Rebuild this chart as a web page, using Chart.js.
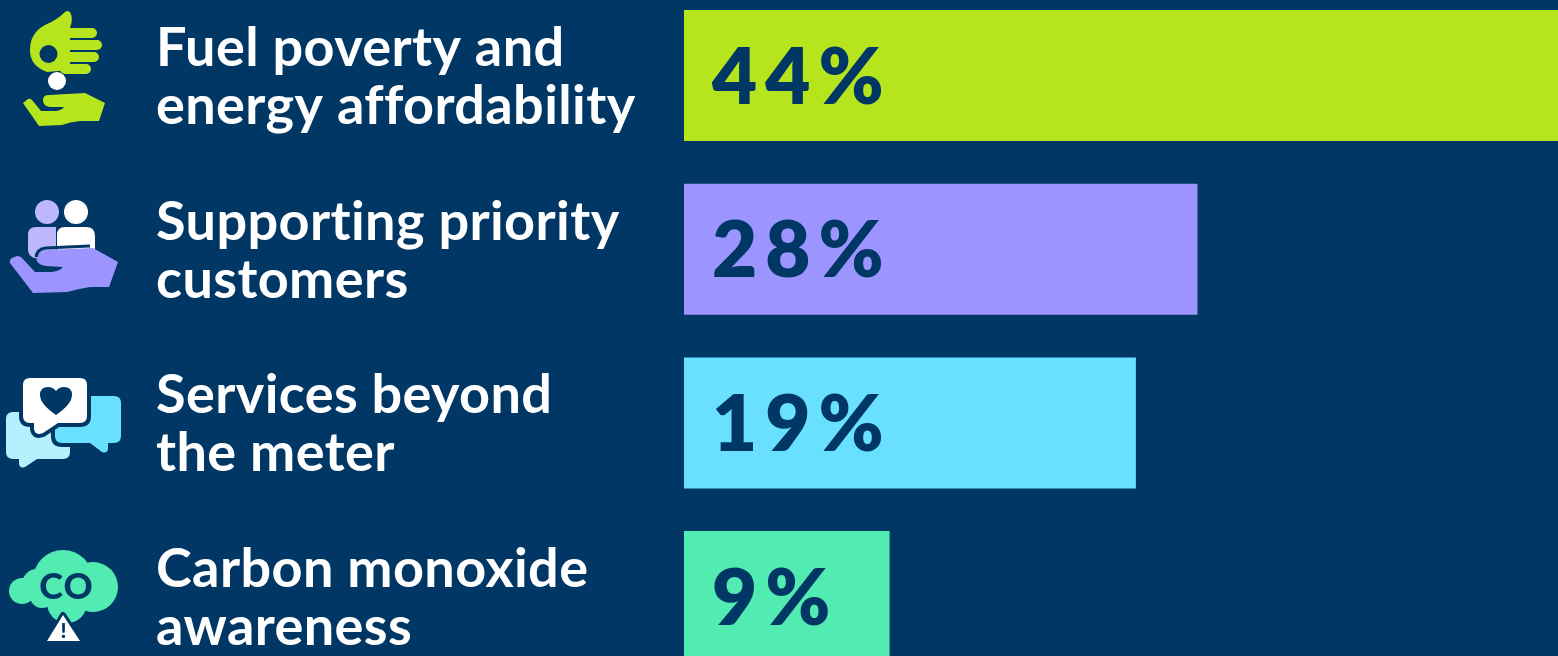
<!DOCTYPE html>
<html lang="en">
<head>
<meta charset="UTF-8">
<title>Priority areas</title>
<script src="https://cdn.jsdelivr.net/npm/chart.js"></script>
<style>
  html, body { margin: 0; width: 1558px; height: 656px; overflow: hidden; background: #003764; }
  #chart { position: absolute; left: 0; top: -12px; }
  #icons { position: absolute; left: 0; top: 0; }
  #icons text { font-family: Lato; font-weight: 900; fill: #003764; }
</style>
</head>
<body>
<canvas id="chart" width="1558" height="696"></canvas>
<svg id="icons" width="156" height="656" viewBox="0 0 156 656">
  <!-- fuel poverty -->
  <g fill="#b6e51d">
    <path d="M71 14 Q69 9 65 12 Q57 20 45 25 Q30 33 30 50 Q30 66 47 72 L70 70 L70 28 Q73 20 71 14Z"/>
    <path d="M65 33H92M68 45H97M70 57H94M65 69H86" stroke="#b6e51d" stroke-width="10" stroke-linecap="round"/>
    <path d="M23 103 L28 99 Q30 98 32 100 L41 111 L56 111 Q62 110 64 107 L50 107 Q43 106 43 100 Q43 95 49 95 L85 93 L105 103 L99 121 L80 121 Q70 122 62 125 L39 126Z"/>
  </g>
  <circle cx="48.5" cy="54" r="9" fill="#003764"/>
  <circle cx="57" cy="81" r="9" fill="#fff"/>
  <!-- priority customers -->
  <circle cx="47" cy="212" r="12" fill="#bdb7ff"/>
  <path d="M28 235 Q28 227 36 227 H56 V258 L34 258 Q28 255 28 250Z" fill="#bdb7ff"/>
  <circle cx="76" cy="212" r="12" fill="#fff"/>
  <path d="M57 235 Q57 227 65 227 H86 Q95 227 95 236 V250 H57Z" fill="#fff"/>
  <path d="M10 263 Q9 260 12 258 L17 256 Q20 256 22 258 L35 272 L52 272 Q60 271 63 267 L46 266 Q36 265 36 257 Q37 250 46 250 L93 248 L118 262 L109 287 L90 287 Q78 289 67 292 L33 293Z" fill="#9c95ff"/>
  <path d="M36 257 Q37 249 46 248 L90 246" fill="none" stroke="#003764" stroke-width="3"/>
  <!-- beyond the meter -->
  <path d="M13 412 H63 Q70 412 70 419 V452 Q70 459 63 459 H37 L25 467 Q20 469 19 464 V459 H13 Q6 459 6 452 V419 Q6 412 13 412Z" fill="#b5f0ff"/>
  <path d="M62 396 H114 Q121 396 121 403 V436 Q121 443 114 443 H108 V449 Q107 454 102 452 L90 443 H62 Q55 443 55 436 V403 Q55 396 62 396Z" fill="#69e0ff" stroke="#003764" stroke-width="8" paint-order="stroke"/>
  <path d="M30 378 H80 Q87 378 87 385 V416 Q87 423 80 423 H58 L43 433 Q35 436 34 429 V423 H30 Q23 423 23 416 V385 Q23 378 30 378Z" fill="#fff" stroke="#003764" stroke-width="8" paint-order="stroke"/>
  <path d="M56 415 Q40 404 40 395 Q40 387 48 387 Q53 387 56 391 Q59 387 64 387 Q72 387 72 395 Q72 404 56 415Z" fill="#003764"/>
  <!-- carbon monoxide -->
  <g fill="#52ebb2">
    <circle cx="63" cy="580" r="30"/><circle cx="93" cy="587" r="25"/>
    <circle cx="22" cy="591" r="13"/><circle cx="37" cy="584" r="15"/>
    <circle cx="67" cy="603" r="20"/><circle cx="42" cy="596" r="12"/>
  </g>
  <text x="66.5" y="599" font-size="36" letter-spacing="1" text-anchor="middle">CO</text>
  <path d="M63 615 L80 641 H47Z" fill="#fff" stroke="#003764" stroke-width="6" stroke-linejoin="round" paint-order="stroke"/>
  <text x="63.5" y="638" font-size="21" text-anchor="middle">!</text>
</svg>
<script>
const categories = [
  ['Fuel poverty and', 'energy affordability'],
  ['Supporting priority', 'customers'],
  ['Services beyond', 'the meter'],
  ['Carbon monoxide', 'awareness']
];
const shareLabels = ['44%', '28%', '19%', '9%'];
// drawn bar lengths, the picture's bars are not in proportion to their labels
const barLengths = [44, 25.85, 22.75, 10.35];
const barColors = ['#b6e51d', '#9c95ff', '#69e0ff', '#52ebb2'];

const shareLabelPlugin = {
  id: 'shareLabels',
  beforeDraw(chart) {
    // also switches off Lato's "ti" ligature in the axis labels
    chart.ctx.letterSpacing = '0.4px';
  },
  afterDatasetsDraw(chart) {
    const ctx = chart.ctx;
    ctx.save();
    ctx.fillStyle = '#003764';
    ctx.font = '800 78px Lato';
    ctx.letterSpacing = '8px';
    ctx.textAlign = 'left';
    ctx.textBaseline = 'middle';
    chart.getDatasetMeta(0).data.forEach((bar, i) => {
      ctx.fillText(shareLabels[i], bar.base + 28, bar.y + 3);
    });
    ctx.restore();
  }
};

new Chart(document.getElementById('chart'), {
  type: 'bar',
  data: {
    labels: categories,
    datasets: [{
      data: barLengths,
      backgroundColor: barColors,
      categoryPercentage: 1,
      barPercentage: 131 / 173.67
    }]
  },
  options: {
    indexAxis: 'y',
    responsive: false,
    animation: false,
    layout: { padding: { left: 156, top: 0.7, right: 0, bottom: 0.6 } },
    plugins: { legend: { display: false }, tooltip: { enabled: false } },
    scales: {
      x: { display: false, min: 0, max: 44 },
      y: {
        afterFit(scale) {
          scale.width = 528;
          scale.paddingTop = 0;
          scale.paddingBottom = 0;
        },
        border: { display: false },
        grid: { display: false },
        ticks: {
          color: '#fff',
          crossAlign: 'far',
          padding: 0,
          labelOffset: 2,
          font: { family: 'Lato', weight: 'bold', size: 54, lineHeight: 58 / 54 }
        }
      }
    }
  },
  plugins: [shareLabelPlugin]
});
</script>
</body>
</html>
